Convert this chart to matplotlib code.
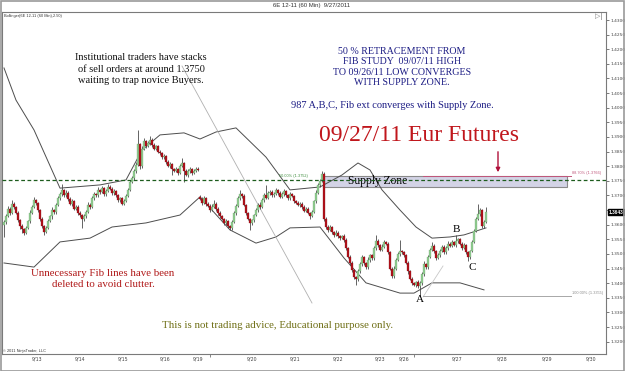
import numpy as np
import matplotlib.pyplot as plt
from matplotlib.patches import Rectangle
from matplotlib.transforms import blended_transform_factory

W, H = 625, 371
SERIF = "Liberation Serif"
SANS = "Liberation Sans"

# 60 min closes, in pips above 1.3000 (643 -> 1.3643)
closes = [
    608, 630, 655, 640, 672, 660, 640, 615, 595,
    585, 572, 590, 612, 640,
    660, 684, 675, 650,
    620, 595, 575,
    590, 612, 628, 650, 642, 668, 690, 705, 718,
    700, 710, 688, 672, 680, 655, 662, 640, 632, 618, 628,
    645, 668, 660, 690, 705, 700, 718, 712,
    725, 705, 715, 730, 722, 708, 716, 700,
    685, 690, 672, 680, 698,
    720, 745, 760, 782, 805,
    875, 800, 860,
    885, 870, 878, 890, 872, 860, 868, 850, 845,
    830, 835, 815, 800, 808, 790, 785,
    790, 778, 800, 810, 785, 770, 782, 790, 778, 785, 792, 788,
    688, 675, 690, 672, 665, 650, 662, 672, 655, 640, 628, 620, 605, 612, 595, 588,
    610, 640, 665, 690, 705, 698,
    668, 640, 620, 605, 615,
    632, 650, 668, 660, 685, 700, 692, 708,
    712, 700, 705, 718, 710, 695, 705, 715, 700, 690, 705, 698, 680, 675, 668, 672,
    660, 648, 655, 640, 630, 645,
    680, 710, 735, 750, 775,
    620, 592,
    582, 592, 575, 565, 572, 560, 555, 562, 548,
    520, 490, 470, 445, 420, 415, 440,
    465, 488, 470, 455, 478, 495, 485,
    520, 545, 530, 515, 525, 540, 535,
    505, 450, 425, 450, 480, 500, 510, 505, 495, 470, 440, 415, 400, 395, 405, 390,
    400, 430, 465, 455, 490, 515, 528, 510, 485, 495, 510,
    525, 505, 520, 535, 528, 540, 530, 545, 550,
    535, 520, 530, 505, 490,
    510, 540, 580, 620, 635, 650,
    595, 610, 643,
]
# upper / lower wick length in pips beyond the body
up_wick = [
    8, 6, 10, 5, 12, 6, 4, 8, 5,
    6, 4, 7, 5, 9,
    6, 11, 5, 4,
    5, 6, 4,
    5, 8, 6, 10, 4, 7, 9, 6, 22,
    5, 8, 4, 6, 9, 5, 7, 4, 6, 5, 8,
    6, 9, 5, 8, 6, 4, 10, 5,
    8, 5, 6, 9, 4, 6, 5, 4,
    5, 6, 4, 7, 8,
    6, 8, 5, 7, 9,
    49, 6, 8,
    10, 6, 8, 12, 5, 7, 6, 5, 4,
    5, 8, 4, 6, 7, 4, 5,
    6, 5, 8, 18, 5, 4, 7, 6, 5, 4, 6, 5,
    6, 5, 8, 4, 6, 5, 9, 14, 5, 4, 6, 5, 4, 6, 5, 4,
    5, 7, 6, 8, 14, 5,
    6, 4, 5, 4, 6,
    5, 7, 6, 8, 5, 9, 36, 6,
    8, 5, 6, 9, 5, 4, 7, 8, 5, 4, 6, 5, 4, 6, 5, 7,
    5, 6, 4, 5, 4, 6,
    6, 8, 7, 6, 7,
    4, 5,
    6, 8, 5, 4, 9, 5, 6, 4, 5,
    5, 4, 6, 5, 4, 6, 8,
    6, 8, 5, 4, 10, 6, 5,
    6, 20, 5, 4, 8, 6, 5,
    6, 5, 4, 7, 6, 8, 38, 5, 6, 4, 5, 4, 6, 5, 4, 6,
    6, 8, 12, 5, 7, 6, 13, 5, 4, 7, 6,
    6, 5, 7, 8, 5, 6, 5, 20, 6,
    5, 6, 8, 5, 4,
    5, 8, 6, 7, 35, 6,
    5, 6, 17,
]
dn_wick = [
    42, 6, 5, 8, 4, 6, 5, 7, 9,
    14, 6, 5, 4, 6,
    5, 4, 6, 5,
    6, 5, 10,
    5, 6, 4, 7, 5, 6, 4, 5, 6,
    5, 7, 6, 5, 8, 6, 4, 7, 6, 30, 5,
    6, 5, 8, 4, 6, 7, 5, 6,
    5, 6, 8, 4, 5, 7, 6, 5,
    6, 8, 5, 6, 4,
    5, 6, 4, 7, 5,
    5, 10, 6,
    5, 7, 4, 6, 8, 5, 6, 4, 7,
    6, 5, 7, 4, 6, 20, 5,
    5, 8, 6, 4, 40, 5, 6, 4, 7, 5, 4, 6,
    5, 6, 4, 7, 5, 6, 4, 5, 7, 6, 5, 4, 6, 5, 6, 6,
    5, 4, 6, 5, 4, 6,
    5, 6, 4, 23, 5,
    6, 4, 5, 7, 4, 6, 5, 4,
    5, 6, 4, 5, 7, 5, 4, 6, 5, 7, 4, 5, 6, 4, 5, 6,
    5, 6, 4, 5, 10, 5,
    6, 5, 4, 5, 4,
    6, 8,
    7, 5, 6, 8, 5, 6, 7, 5, 6,
    6, 5, 7, 6, 5, 21, 6,
    5, 6, 7, 5, 6, 4, 6,
    6, 5, 7, 6, 5, 4, 6,
    6, 5, 7, 6, 5, 4, 6, 5, 4, 6, 7, 5, 6, 4, 8, 5,
    34, 6, 5, 7, 6, 5, 4, 6, 5, 4, 6,
    5, 6, 4, 7, 5, 6, 4, 5, 6,
    5, 6, 4, 5, 14,
    6, 5, 4, 6, 5, 4,
    6, 5, 4,
]
first_open = 600
gap_opens = {98: 694}  # weekend gap

# Bollinger(2.50) bands read at some bars (bar index, pips above 1.3000)
upper_bar = [0, 6, 15, 28, 48, 61, 69, 78, 90, 98, 106, 116, 131, 143, 158,
             169, 177, 183, 189, 198, 206, 214, 223, 230, 241]
upper_val = [1136, 1026, 924, 725, 736, 753, 855, 907, 914, 893, 917, 931, 831, 719, 729,
             770, 811, 787, 719, 650, 592, 554, 558, 565, 589]
lower_bar = [0, 15, 28, 43, 54, 71, 88, 98, 113, 126, 136, 143, 158,
             170, 181, 198, 205, 214, 228, 240]
lower_val = [469, 455, 541, 554, 592, 606, 633, 695, 582, 537, 558, 589, 592,
             486, 401, 366, 366, 401, 401, 377]

day_labels = ["9/13", "9/14", "9/15", "9/16", "9/19", "9/20", "9/21", "9/22",
              "9/23", "9/26", "9/27", "9/28", "9/29", "9/30"]
day_bars = [16.5, 38, 59.5, 80.5, 97, 124, 145.5, 167, 188, 200, 226.5, 249, 271.5, 293.5]

fib_50, fib_887, fib_100 = 1.3752, 1.3766, 1.3355
zone_lo, zone_hi = 1.3729, 1.3767
last_price = 1.3643


def px(v):
    # pips above 1.3000 -> price
    return 1.3 + np.asarray(v, dtype=float) / 10000


def bar_at(xpix):
    # image pixel column -> bar index
    return (xpix - 4) / 2


def price_at(ypix):
    return 1.43 - (ypix - 20) * 0.000342


fig = plt.figure(figsize=(W / 100, H / 100), dpi=100)
fig.patches.append(Rectangle((0.5 / W, 0.5 / H), (W - 1.5) / W, (H - 1.5) / H,
                             transform=fig.transFigure, fill=False, ec="#9a9a9a", lw=1.2))
ax = fig.add_axes([2 / W, 17 / H, 604 / W, 342 / H])
ax.set_xlim(-1, 301)
ax.set_ylim(price_at(354), price_at(12))
for s in ax.spines.values():
    s.set_color("#7a7a7a")
    s.set_linewidth(0.8)

# candles
c = np.array(closes)
o = np.r_[first_open, c[:-1]]
for k, v in gap_opens.items():
    o[k] = v
hi = np.maximum(o, c) + np.array(up_wick)
lo = np.minimum(o, c) - np.array(dn_wick)
x = np.arange(len(c))
rise = c >= o
ax.vlines(x, px(lo), px(hi), color="#4a4a4a", lw=0.6, zorder=3)
body = np.maximum(np.abs(c - o), 2.0)
ax.bar(x[rise], body[rise] / 10000, bottom=px(np.minimum(o, c)[rise]), width=1.05,
       color="#8fcc8f", edgecolor="#6c9c6c", lw=0.2, zorder=4)
ax.bar(x[~rise], body[~rise] / 10000, bottom=px(np.minimum(o, c)[~rise]), width=1.05,
       color="#b3121b", edgecolor="#7a0a10", lw=0.2, zorder=4)

# bollinger bands
ax.plot(upper_bar, px(upper_val), color="#4d4d4d", lw=0.7, zorder=2)
ax.plot(lower_bar, px(lower_val), color="#4d4d4d", lw=0.7, zorder=2)

# supply zone
ax.add_patch(Rectangle((bar_at(323), zone_lo), bar_at(567) - bar_at(323), zone_hi - zone_lo,
                       facecolor="#d3d3e6", edgecolor="#8a8a8a", lw=0.8, zorder=1))
ax.text(bar_at(378), (zone_lo + zone_hi) / 2, "Supply Zone", family=SERIF, fontsize=8.3,
        ha="center", va="center", zorder=5)

# fib levels
ax.axhline(fib_50, color="#1d5c1d", lw=0.9, ls=(0, (3, 2)), zorder=5)
ax.text(bar_at(308), fib_50 + 0.0006, "50.00% (1.3752)", fontsize=2.8, color="#3c8c3c",
        ha="right", va="bottom", family=SANS)
ax.plot([bar_at(423), bar_at(571)], [fib_887, fib_887], color="#c0567a", lw=0.7, zorder=5)
ax.text(bar_at(572), fib_887 + 0.0004, "88.70% (1.3766)", fontsize=2.8, color="#c0567a",
        ha="left", va="bottom", family=SANS)
ax.plot([bar_at(423), bar_at(571)], [fib_100, fib_100], color="#a8a8a8", lw=0.7, zorder=5)
ax.text(bar_at(572), fib_100 + 0.0004, "100.00% (1.3355)", fontsize=2.8, color="#8c8c8c",
        ha="left", va="bottom", family=SANS)
ax.plot([bar_at(423), bar_at(443)], [price_at(297), price_at(266)], color="#c8c8c8", lw=0.6)

# trend line drawn by hand
ax.plot([bar_at(182), bar_at(312)], [price_at(66), price_at(303)], color="#b0b0b0", lw=0.6)

# arrow to zone
ax.annotate("", xy=(bar_at(498), price_at(175)), xytext=(bar_at(498), price_at(149)),
            arrowprops=dict(arrowstyle="-|>", color="#b0103a", lw=1.0, mutation_scale=6))

# A B C points
ax.text(bar_at(420), price_at(299), "A", family=SERIF, fontsize=8, ha="center", va="center")
ax.text(bar_at(456), price_at(229), "B", family=SERIF, fontsize=8, ha="center", va="center")
ax.text(bar_at(472), price_at(267), "C", family=SERIF, fontsize=8, ha="center", va="center")

# price axis (the 1.3650 label sits under the last price box)
ax.yaxis.tick_right()
yt = np.round(np.arange(1.32, 1.43001, 0.005), 4)
ax.set_yticks(yt)
ax.set_yticklabels(["" if abs(v - 1.365) < 1e-6 else f"{v:.4f}" for v in yt])
ax.tick_params(axis="y", labelsize=3.2, length=2, width=0.5, pad=1, colors="#444444")
tr = blended_transform_factory(ax.transAxes, ax.transData)
ax.text(1.004, last_price, f"{last_price:.4f}", transform=tr, fontsize=3.4, color="white",
        fontweight="bold", va="center", ha="left", family=SANS,
        bbox=dict(boxstyle="square,pad=0.15", fc="black", ec="black"))

# date axis
ax.set_xticks(day_bars)
ax.set_xticklabels(day_labels)
ax.tick_params(axis="x", labelsize=3.4, length=0, pad=2, colors="#444444")
ax.set_xticks([bar_at(210), bar_at(414)], minor=True)
ax.tick_params(axis="x", which="minor", length=2, width=0.5, color="#555555")


def fx(v):
    return v / W


def fy(v):
    return 1 - v / H


# header
fig.text(fx(312), fy(5), "6E 12-11 (60 Min)  9/27/2011", fontsize=4.3, ha="center",
         va="center", family=SANS, color="#333333")
fig.text(fx(4), fy(15.5), "Bollinger(6E 12-11 (60 Min),2.50)", fontsize=2.8, ha="left",
         va="center", family=SANS, color="#333333")
fig.text(fx(599), fy(17), "\u25b7|", fontsize=5, ha="center", va="center", color="#777777")
fig.text(fx(3), fy(351), "\u00a9 2011 NinjaTrader, LLC", fontsize=2.8, ha="left", va="center",
         family=SANS, color="#333333")

# notes
fig.text(fx(141), fy(69), "Institutional traders have stacks\nof sell orders at around 1.3750\n"
         "waiting to trap novice Buyers.", family=SERIF, fontsize=7.5, ha="center", va="center",
         linespacing=1.4, color="#111111")
fig.text(fx(402), fy(67), "50 % RETRACEMENT FROM\nFIB STUDY  09/07/11 HIGH\n"
         "TO 09/26/11 LOW CONVERGES\nWITH SUPPLY ZONE.", family=SERIF, fontsize=7.2,
         ha="center", va="center", linespacing=1.2, color="#1c1c84")
fig.text(fx(392), fy(106), "987 A,B,C, Fib ext converges with Supply Zone.", family=SERIF,
         fontsize=7.5, ha="center", va="center", color="#1c1c84")
fig.text(fx(419), fy(136), "09/27/11 Eur Futures", family=SERIF, fontsize=17, ha="center",
         va="center", color="#c0161c")
fig.text(fx(103), fy(279), "Unnecessary Fib lines have been\ndeleted to avoid clutter.",
         family=SERIF, fontsize=7.8, ha="center", va="center", linespacing=1.2,
         color="#b01818")
fig.text(fx(278), fy(325), "This is not trading advice, Educational purpose only.",
         family=SERIF, fontsize=7.8, ha="center", va="center", color="#6e6e14")

fig.savefig("out.png", dpi=100)
